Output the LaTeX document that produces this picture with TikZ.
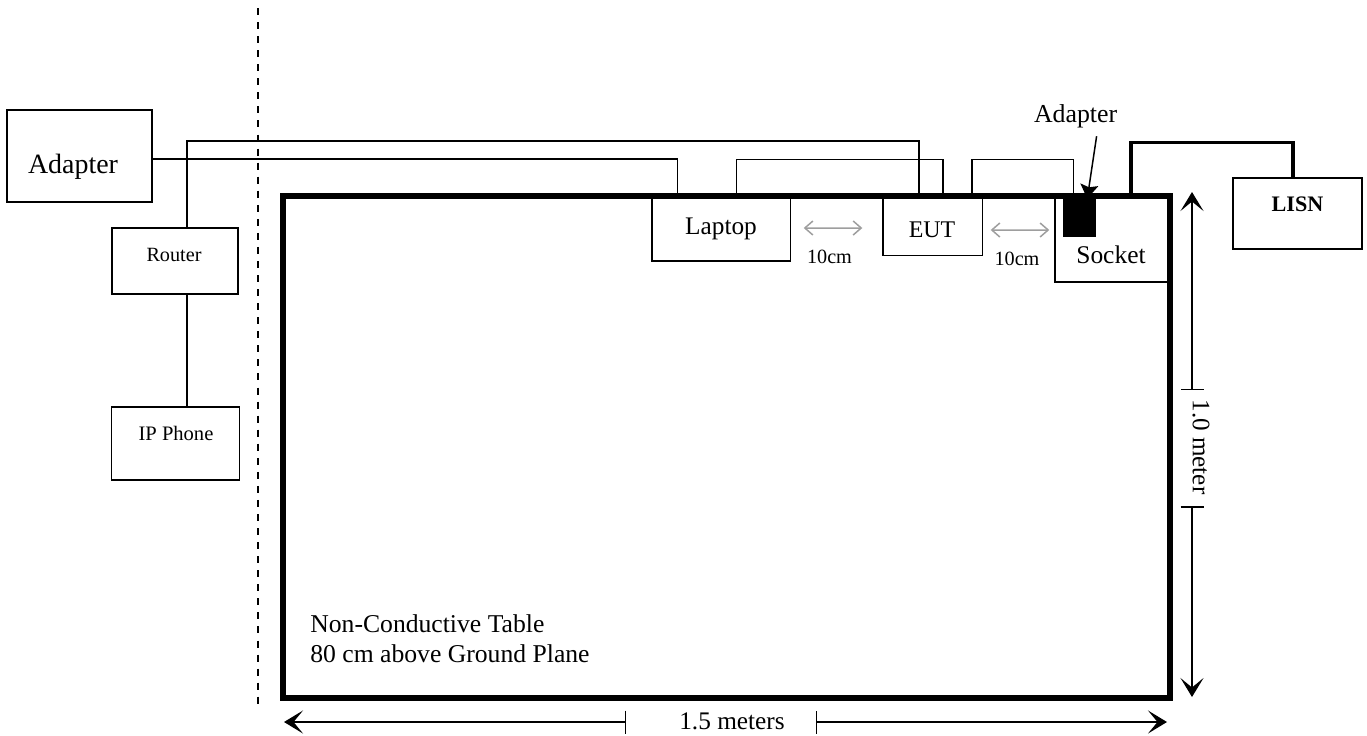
\documentclass[tikz,border=0pt]{standalone}
\usepackage{fontspec}
\setmainfont{Liberation Serif}
\usetikzlibrary{arrows.meta,positioning,calc}
\tikzset{
  devbox/.style={rectangle, draw=black, line width=0.85pt, inner sep=0pt},
  plug/.style={rectangle, draw=black, fill=black, inner sep=0pt},
  board/.style={rectangle, draw=black, line width=2.3pt, inner sep=0pt},
  lbl/.style={anchor=base, inner sep=0pt},
  cable/.style={line width=0.85pt, black},
  mains/.style={line width=2pt, black},
  gapA/.style={line width=0.85pt, black!38,
    {Straight Barb[length=1.6mm, width=2.8mm]}-{Straight Barb[length=1.6mm, width=2.8mm]}},
  dimL/.style={line width=0.85pt, {Stealth[length=3.8mm, width=4.6mm, inset=1.9mm]}-{Bar[width=4.6mm]}},
  dimR/.style={line width=0.85pt, {Bar[width=4.6mm]}-{Stealth[length=3.8mm, width=4.6mm, inset=1.9mm]}},
  ptr/.style={line width=0.85pt, -{Stealth[length=2.8mm, width=3.6mm, inset=0.5mm]}},
  cutline/.style={line width=0.75pt, dash pattern=on 4pt off 4pt},
}

\begin{document}
\begin{tikzpicture}[x=0.02cm, y=-0.02cm]
\useasboundingbox (0,0) rectangle (1367,735);

% ================= OUTSIDE THE TABLE =================
\node[devbox, minimum width=2.9cm, minimum height=1.84cm] (adapter) at (79.5,156) {};
\node[lbl, font=\fontsize{15.9}{18}\selectfont] (adaptertxt) at (73,173) {Adapter};
\node[devbox, minimum width=2.52cm, minimum height=1.32cm] (router) at (175,261) {};
\node[lbl, font=\fontsize{11.5}{13}\selectfont] (routertxt) at (174,261.7) {Router};
\node[devbox, minimum width=2.56cm, minimum height=1.46cm] (phone) at (175.5,443.5) {};
\node[lbl, font=\fontsize{11.7}{13}\selectfont] (phonetxt) at (176,440.7) {IP Phone};

\coordinate (cutT) at (258,8);
\coordinate (cutB) at (258,710);
\draw[cutline] (cutT) -- (cutB);

% ================= TABLE =================
\node[board, minimum width=17.7cm, minimum height=10cm] (table) at (726.5,447) {};
\node[lbl, anchor=base west, font=\fontsize{14.6}{17}\selectfont] (tbl1) at (310,632) {Non-Conductive Table};
\node[lbl, anchor=base west, font=\fontsize{14.6}{17}\selectfont] (tbl2) at (310,662) {80 cm above Ground Plane};

\node[devbox, minimum width=2.77cm, minimum height=1.26cm] (laptop) at (721.25,229.5) {};
\node[lbl, font=\fontsize{14.4}{17}\selectfont] (laptoptxt) at (721,234.3) {Laptop};
\node[devbox, minimum width=1.99cm, minimum height=1.15cm] (eut) at (932.8,226.8) {};
\node[lbl, font=\fontsize{13.6}{16}\selectfont] (euttxt) at (932,237) {EUT};
\node[devbox, minimum width=2.26cm, minimum height=1.68cm] (socket) at (1111.5,240) {};
\node[lbl, font=\fontsize{14.5}{17}\selectfont] (sockettxt) at (1111,263.6) {Socket};
\node[plug, minimum width=0.63cm, minimum height=0.76cm] (block) at (1079.25,217) {};
\node[lbl, font=\fontsize{14.7}{17}\selectfont] (blocktxt) at (1075.6,122.4) {Adapter};

\node[devbox, minimum width=2.58cm, minimum height=1.42cm] (lisn) at (1297.5,213.5) {};
\node[lbl, font=\bfseries\fontsize{12.6}{15}\selectfont] (lisntxt) at (1297.5,211.7) {LISN};

% redraw table edge over the box tops
\draw[line width=2.3pt] (table.north west) rectangle (table.south east);

% ================= CABLES =================
\draw[cable] ($(adapter.east)+(0,3)$) -| ($(laptop.north)+(-44,0)$);
\draw[cable] ($(router.north)+(12,0)$) |- ($(eut.north)+(-14,-56.5)$) -- ($(eut.north)+(-14,0)$);
\draw[cable] ($(router.south)+(12,0)$) -- ($(phone.north)+(11.5,0)$);
\draw[cable] ($(laptop.north)+(15,0)$) |- ($(eut.north)+(10,-38)$) -- ($(eut.north)+(10,0)$);
\draw[cable] ($(eut.north)+(39,0)$) |- ($(block.north)+(-6,-38)$) -- ($(block.north)+(-6,0)$);
\draw[mains] ($(socket.north)+(19.5,0)$) |- ($(lisn.north)+(-4.5,-35)$) -- ($(lisn.north)+(-4.5,0)$);

\draw[ptr] ($(blocktxt.south)+(21,8)$) -- ($(block.north)+(8,1)$);

% ================= SPACINGS =================
\draw[gapA] ($(laptop.east)+(12.5,-1.5)$) -- ($(eut.west)+(-20,1.2)$);
\node[lbl, font=\fontsize{11.5}{13}\selectfont] (gap1) at (829.5,263.6) {10cm};
\draw[gapA] ($(eut.east)+(7.4,3.2)$) -- ($(socket.west)+(-5,-10)$);
\node[lbl, font=\fontsize{11.5}{13}\selectfont] (gap2) at (1017,265) {10cm};

% ================= DIMENSIONS =================
\coordinate (hT) at (1192,192);
\coordinate (hTm) at (1192,390);
\coordinate (hBm) at (1192,506);
\coordinate (hB) at (1192,697);
\draw[dimL] (hT) -- (hTm);
\draw[dimR] (hBm) -- (hB);
\node[rotate=-90, inner sep=0pt, font=\fontsize{14.3}{17}\selectfont] (depth) at (1201,447) {1.0 meter};

\coordinate (wL) at (284,722);
\coordinate (wLm) at (626,722);
\coordinate (wRm) at (816,722);
\coordinate (wR) at (1167,722);
\draw[dimL] (wL) -- (wLm);
\draw[dimR] (wRm) -- (wR);
\node[lbl, font=\fontsize{14.4}{17}\selectfont] (width) at (732,729) {1.5 meters};

\end{tikzpicture}
\end{document}
